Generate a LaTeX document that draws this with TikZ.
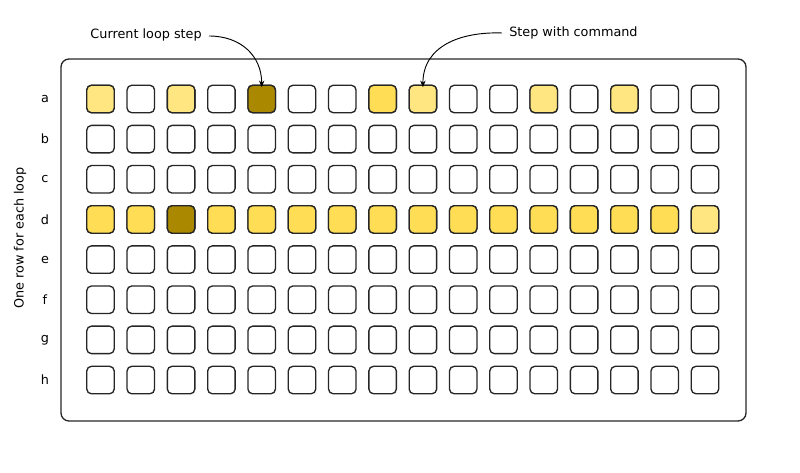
\documentclass[tikz,border=0pt]{standalone}
\usepackage{fontspec}
\setmainfont{DejaVu Sans}
\usetikzlibrary{arrows.meta}
\definecolor{lightY}{HTML}{FFE680}
\definecolor{brightY}{HTML}{FFDD55}
\definecolor{darkY}{HTML}{AA8800}
\tikzset{
  cell/.style={draw=black!85, line width=1pt, rounded corners=3.5pt, minimum width=20.6pt, minimum height=20.6pt, inner sep=0pt, fill=white},
  lbl/.style={font=\fontsize{9.6}{11.5}\selectfont, inner sep=0pt},
  ann/.style={-{Stealth[length=5pt,width=4pt]}, line width=0.7pt},
}
\begin{document}
\begin{tikzpicture}[x=0.75pt,y=-0.75pt]
\useasboundingbox (0,0) rectangle (800,473);
\node[draw=black!85, line width=1pt, rounded corners=6pt, minimum width=513.75pt, minimum height=271.5pt, inner sep=0pt] (frame) at (403.5,240) {};
% rows
\foreach \r [count=\i from 0] in {a,b,c,d,e,f,g,h}{
  \node[lbl] (lab-\r) at (45,{99+\i*40.15}) {\r};
  \foreach \c in {1,...,16}{
    \node[cell] (\r-\c) at ({100.5+(\c-1)*40.3},{99+\i*40.15}) {};
  }
}
% highlighted cells row a
\foreach \c in {1,3,9,12,14}{ \node[cell,fill=lightY] at (a-\c) {}; }
\node[cell,fill=brightY] at (a-8) {};
\node[cell,fill=darkY] at (a-5) {};
% row d
\foreach \c in {1,2,4,5,6,7,8,9,10,11,12,13,14,15}{ \node[cell,fill=brightY] at (d-\c) {}; }
\node[cell,fill=darkY] at (d-3) {};
\node[cell,fill=lightY] at (d-16) {};
% side label
\node[lbl, rotate=90] (side) at (20,238) {One row for each loop};
% annotations
\node[lbl, anchor=east] (cur) at (202,35) {Current loop step};
\node[lbl, anchor=west] (cmd) at (509,33) {Step with command};
\draw[ann] (cur.east) ++(7,1) coordinate (cs) to[out=0,in=90,looseness=1.1] ([yshift=-2]a-5.north);
\draw[ann] (cmd.west) ++(-7,0) coordinate (ce) to[out=178,in=90,looseness=1.1] ([yshift=-2]a-9.north);
\end{tikzpicture}
\end{document}
